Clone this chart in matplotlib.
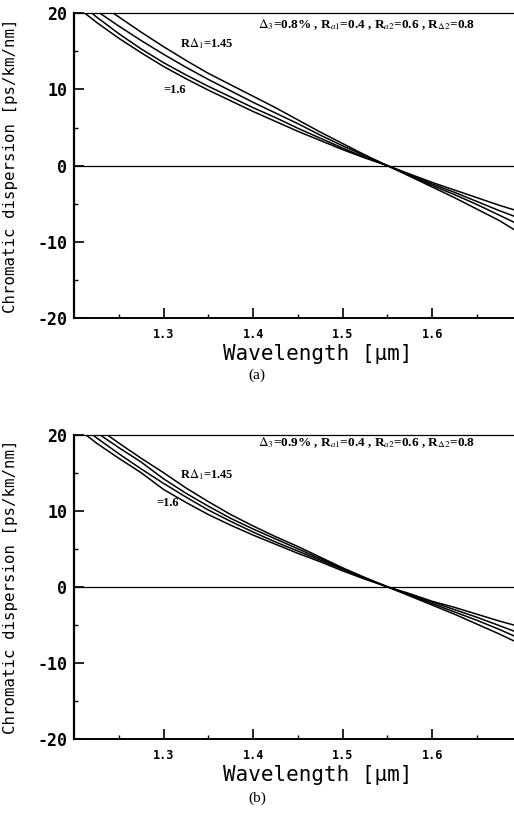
# Dispersión cromática vs longitud de onda, dos casos (a) y (b)
import matplotlib
matplotlib.use("Agg")
import matplotlib.pyplot as plt
from matplotlib.ticker import FixedLocator

plt.rcParams['mathtext.fontset'] = 'stix'

# longitudes de onda [um]
lam = [1.200, 1.225, 1.250, 1.275, 1.300, 1.325, 1.350, 1.375, 1.400, 1.425,
       1.450, 1.475, 1.500, 1.525, 1.550, 1.575, 1.600, 1.625, 1.650, 1.675,
       1.700]

# (a) delta3 = 0.8 %  (RΔ1 = 1.45 ... 1.6)
a_145 = [23.8, 21.5, 19.5, 17.5, 15.6, 13.8, 12.1, 10.6, 9.1, 7.6,
         6.0, 4.4, 2.9, 1.4, 0.0, -1.4, -2.8, -4.2, -5.7, -7.2, -9.0]
a_150 = [22.6, 20.3, 18.3, 16.4, 14.6, 12.9, 11.3, 9.8, 8.3, 6.9,
         5.5, 4.0, 2.6, 1.3, 0.0, -1.3, -2.6, -3.8, -5.1, -6.5, -7.9]
a_155 = [22.0, 19.5, 17.3, 15.3, 13.5, 11.9, 10.4, 9.0, 7.6, 6.3,
         4.9, 3.6, 2.3, 1.1, 0.0, -1.2, -2.4, -3.5, -4.7, -5.9, -7.0]
a_160 = [21.1, 18.8, 16.7, 14.8, 13.0, 11.4, 9.9, 8.5, 7.1, 5.8,
         4.5, 3.3, 2.1, 1.0, 0.0, -1.1, -2.2, -3.2, -4.2, -5.2, -6.1]

# (b) delta3 = 0.9 %
b_145 = [23.4, 21.0, 18.9, 16.9, 15.0, 13.0, 11.2, 9.5, 8.0, 6.6,
         5.3, 3.9, 2.5, 1.2, 0.0, -1.2, -2.4, -3.6, -4.9, -6.2, -7.6]
b_150 = [22.6, 20.3, 18.3, 16.4, 14.2, 12.3, 10.6, 9.0, 7.6, 6.3,
         5.0, 3.7, 2.4, 1.2, 0.0, -1.1, -2.2, -3.3, -4.4, -5.6, -6.9]
b_155 = [21.9, 19.6, 17.5, 15.5, 13.6, 11.8, 10.1, 8.6, 7.2, 5.9,
         4.7, 3.5, 2.3, 1.1, 0.0, -1.0, -2.0, -3.0, -4.0, -5.1, -6.2]
b_160 = [21.2, 18.9, 16.9, 15.0, 12.8, 11.1, 9.5, 8.1, 6.8, 5.6,
         4.4, 3.3, 2.1, 1.0, 0.0, -0.9, -1.9, -2.7, -3.6, -4.5, -5.3]

curvas_a = [a_145, a_150, a_155, a_160]
curvas_b = [b_145, b_150, b_155, b_160]

textos = [r"$\Delta_3$=0.8% , R$_{a1}$=0.4 , R$_{a2}$=0.6 , R$_{\Delta2}$=0.8",
          r"$\Delta_3$=0.9% , R$_{a1}$=0.4 , R$_{a2}$=0.6 , R$_{\Delta2}$=0.8"]
letras = ["(a)", "(b)"]

fig = plt.figure(figsize=(5.14, 8.18), dpi=100)

# posiciones de los ejes (el eje x se sale un poco por la derecha, como en el original)
posiciones = [[0.144, 0.611, 0.871, 0.373], [0.144, 0.0966, 0.871, 0.372]]
etiquetas_y = [(16.0, 9.9), (14.7, 11.0)]
y_texto = [18.5, 18.9]
y_letra = [0.541, 0.024]

mono = 'DejaVu Sans Mono'
serif = ['Liberation Serif', 'DejaVu Serif']

for k in range(2):
    ax = fig.add_axes(posiciones[k])
    for c in (curvas_a if k == 0 else curvas_b):
        ax.plot(lam, c, color='black', lw=1.1)
    ax.axhline(0, color='black', lw=0.9)

    ax.set_xlim(1.2, 1.7)
    ax.set_ylim(-20, 20)

    ax.spines['right'].set_visible(False)
    ax.spines['left'].set_linewidth(1.6)
    ax.spines['bottom'].set_linewidth(1.4)
    ax.spines['top'].set_linewidth(0.9)

    ax.xaxis.set_major_locator(FixedLocator([1.3, 1.4, 1.5, 1.6]))
    ax.xaxis.set_minor_locator(FixedLocator([1.25, 1.35, 1.45, 1.55, 1.65]))
    ax.yaxis.set_major_locator(FixedLocator([-20, -10, 0, 10, 20]))
    ax.yaxis.set_minor_locator(FixedLocator([-15, -5, 5, 15]))
    ax.set_xticklabels(['1.3', '1.4', '1.5', '1.6'], fontfamily=mono,
                       fontweight='bold', fontsize=8.5)
    ax.set_yticklabels(['-20', '-10', '0', '10', '20'], fontfamily=mono,
                       fontweight='bold', fontsize=12)
    ax.tick_params(axis='both', which='major', direction='in', length=7,
                   width=1.2, pad=5)
    ax.tick_params(axis='both', which='minor', direction='in', length=3,
                   width=1.0)
    ax.tick_params(axis='x', which='major', pad=7)
    ax.tick_params(top=False, right=False, which='both')

    ax.set_ylabel('Chromatic dispersion [ps/km/nm]', fontfamily=mono,
                  fontsize=11.3)
    ax.yaxis.set_label_coords(-0.125, 0.5)
    ax.set_xlabel('Wavelength [\u03bcm]', fontfamily=mono, fontsize=15)
    ax.xaxis.set_label_coords(0.545, -0.085)

    ax.text(1.405, y_texto[k], textos[k], fontfamily=serif, fontsize=9.5,
            fontweight='bold', ha='left', va='center')
    ax.text(1.318, etiquetas_y[k][0], r"R$\Delta_1$=1.45", fontfamily=serif,
            fontsize=9, fontweight='bold', ha='left', va='center')
    ax.text(1.30 if k == 0 else 1.292, etiquetas_y[k][1], "=1.6",
            fontfamily=serif, fontsize=9, fontweight='bold',
            ha='left', va='center')

    fig.text(0.5, y_letra[k], letras[k], fontfamily=serif, fontsize=11,
             ha='center', va='center')

fig.savefig('out.png', dpi=100)
